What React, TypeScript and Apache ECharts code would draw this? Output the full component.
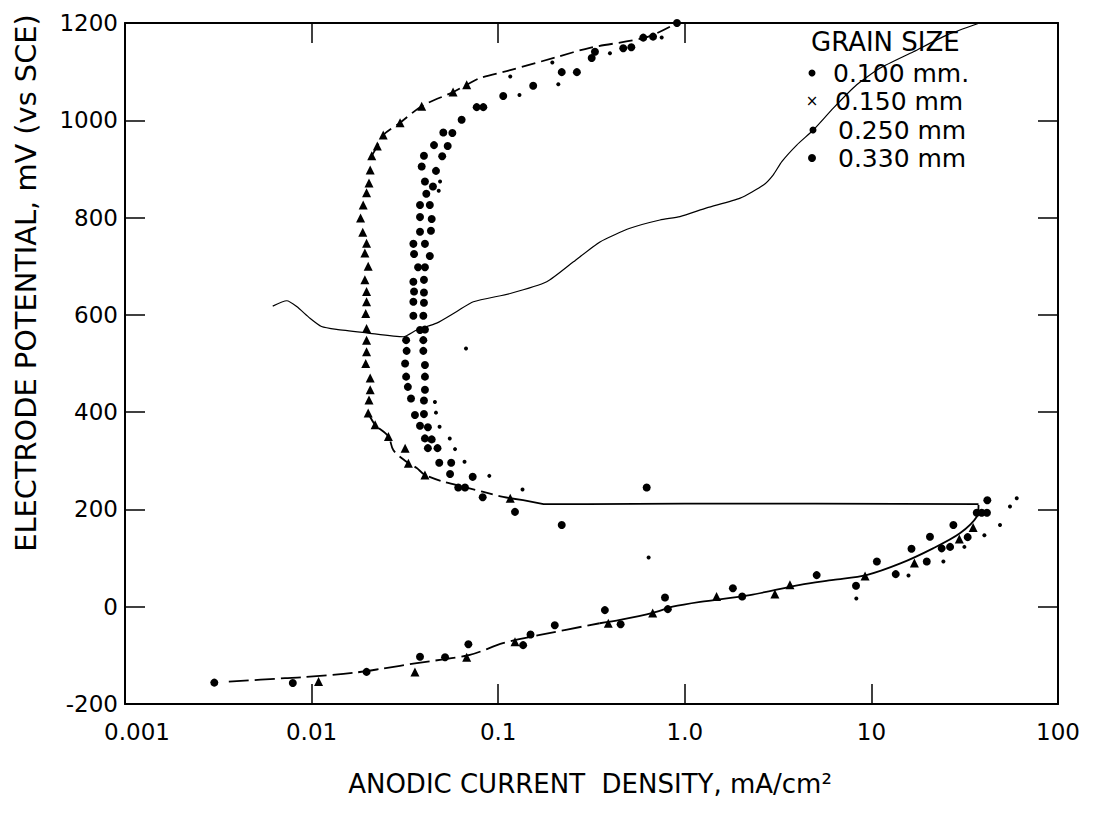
import React, { useEffect, useRef } from "react";
import * as echarts from "echarts";

const FONT = '"DejaVu Sans", "Liberation Sans", sans-serif';

// Tick labels
const X_TICK_LABELS = ["0.001", "0.01", "0.1", "1.0", "10", "100"];
const TOP_TICKS = [0.01, 0.1, 1];

// Legend
const LEGEND_TITLE = "GRAIN SIZE";
const LEGEND_LABELS = ["0.100 mm.", "0.150 mm", "0.250 mm", "0.330 mm"];

// 0.100 mm — triangles
const SIZE_0100: [number, number][] = [
  [0.0678, 1073], [0.0573, 1058], [0.0389, 1029], [0.0298, 995], [0.0242, 970],
  [0.0225, 947], [0.021, 927], [0.0206, 898], [0.0203, 871], [0.0197, 851],
  [0.0189, 826], [0.0183, 799], [0.0188, 770], [0.0197, 747], [0.0193, 727],
  [0.0201, 700], [0.0193, 672], [0.0197, 648], [0.0197, 627], [0.0195, 603],
  [0.0197, 572], [0.0197, 548], [0.0197, 524], [0.0195, 500], [0.0206, 470],
  [0.0206, 446], [0.0203, 425], [0.0201, 398], [0.0219, 374], [0.0258, 350],
  [0.0317, 326], [0.033, 295], [0.0405, 271], [0.116, 223],
  [0.0109, -154], [0.0358, -134], [0.0678, -104], [0.123, -72], [0.389, -34],
  [0.673, -13], [1.48, 21], [3.04, 26], [3.66, 45], [9.25, 63], [17.0, 90],
  [29.6, 139], [35.1, 163],
];

// 0.150 mm — small dots
const SIZE_0150: [number, number][] = [
  [0.0458, 421], [0.0464, 399], [0.0485, 370], [0.055, 346], [0.0587, 324],
  [0.066, 298], [0.0896, 269], [0.135, 241], [0.0672, 531], [0.64, 101],
  [0.048, 855], [0.0488, 874], [0.116, 1090], [0.13, 1052], [0.195, 1119],
  [0.21, 1074], [0.397, 1138], [0.752, 1170],
  [8.3, 17], [15.8, 64], [24.3, 93], [31.5, 123], [40.3, 147], [48.9, 168],
  [55.3, 206], [60.1, 223],
];

// 0.250 mm — circles (left column)
const SIZE_0250: [number, number][] = [
  [0.0381, 771], [0.0381, 801], [0.0381, 826], [0.0389, 905], [0.04, 927],
  [0.0453, 949], [0.0508, 975], [0.0637, 1001], [0.0767, 1027], [0.1064, 1050],
  [0.154, 1071], [0.219, 1099], [0.317, 1128], [0.468, 1148], [0.599, 1170],
  [0.908, 1200],
  [0.0351, 746], [0.0354, 725], [0.0372, 698], [0.0351, 668], [0.0354, 648],
  [0.0351, 627], [0.0351, 598], [0.0381, 569], [0.0321, 548], [0.0323, 526],
  [0.0317, 500], [0.0321, 473], [0.0328, 452], [0.0341, 428], [0.0358, 394],
  [0.0381, 372], [0.0405, 346], [0.042, 326], [0.0483, 296], [0.0552, 273],
  [0.0611, 245], [0.0826, 225], [0.123, 195], [0.219, 168], [0.625, 245],
  [0.00301, -156], [0.00793, -157], [0.0197, -134], [0.0381, -103],
  [0.136, -79], [0.201, -38], [0.453, -36], [0.811, -5], [2.03, 21],
  [8.27, 43], [13.5, 67], [19.8, 93], [23.8, 120], [27.5, 168], [36.7, 193],
  [41.8, 219],
];

// 0.330 mm — circles (right column)
const SIZE_0330: [number, number][] = [
  [0.0436, 773], [0.044, 797], [0.043, 826], [0.0412, 849], [0.0447, 864],
  [0.0405, 874], [0.0464, 896], [0.0501, 926], [0.0536, 947], [0.0568, 974],
  [0.0832, 1027], [0.264, 1099], [0.33, 1141], [0.517, 1150], [0.676, 1172],
  [0.0405, 746], [0.043, 721], [0.0405, 698], [0.04, 672], [0.04, 646],
  [0.04, 625], [0.0397, 598], [0.0405, 570], [0.0397, 548], [0.0397, 526],
  [0.0405, 497], [0.0405, 473], [0.0405, 446], [0.04, 424], [0.04, 396],
  [0.042, 369], [0.044, 344], [0.0473, 326], [0.056, 296], [0.073, 267],
  [0.0664, 245],
  [0.0519, -104], [0.0692, -77], [0.149, -57], [0.373, -7], [0.783, 19],
  [1.81, 38], [5.09, 65], [10.7, 93], [16.4, 119], [20.6, 144], [26.4, 123],
  [32.8, 143], [39.0, 193], [41.6, 193],
];

// Fitted curve through the data, in pieces
const FIT_ACTIVE_LOW: [number, number][] = [
  [0.0036, -154], [0.0072, -147], [0.009, -145], [0.0167, -136], [0.0242, -127],
  [0.0366, -116], [0.0705, -99], [0.106, -75], [0.1675, -58], [0.35, -34],
];
const FIT_ACTIVE_HIGH: [number, number][] = [
  [0.35, -34], [0.45, -27], [0.68, -12], [0.86, 0], [1.21, 10], [2.23, 24],
  [4.15, 45], [6.26, 55], [9.4, 65], [14.3, 89], [21.4, 120], [29.8, 151],
  [36.7, 185], [37.5, 209],
];
const FIT_PLATEAU: [number, number][] = [
  [37.5, 211], [5, 212], [1, 212], [0.3, 211], [0.175, 211], [0.136, 219],
  [0.116, 223],
];
const FIT_BEND: [number, number][] = [
  [0.116, 223], [0.1001, 228], [0.0677, 245], [0.0508, 257], [0.0405, 271],
  [0.0366, 285], [0.0317, 300], [0.0274, 322], [0.0258, 350], [0.0219, 374],
  [0.0201, 398],
];
const FIT_UPPER: [number, number][] = [
  [0.021, 927], [0.0225, 947], [0.0242, 970], [0.0298, 995], [0.0389, 1029],
  [0.0573, 1058], [0.0678, 1073], [0.08, 1087], [0.116, 1103], [0.206, 1130],
  [0.31, 1149], [0.627, 1171], [0.908, 1200],
];

// Thin continuous curve
const THIN_CURVE: [number, number][] = [
  [0.00619, 618], [0.00736, 629], [0.00832, 617], [0.0098, 593], [0.0113, 576],
  [0.0136, 570], [0.0197, 563], [0.031, 555], [0.0366, 569], [0.0468, 583],
  [0.06, 607], [0.0736, 627], [0.116, 644], [0.182, 668], [0.253, 709],
  [0.351, 750], [0.508, 778], [0.736, 795], [0.942, 802], [1.31, 820],
  [1.98, 840], [2.64, 867], [2.98, 888], [3.31, 915], [3.98, 949], [4.88, 980],
  [6.25, 1025], [8.34, 1073], [11.1, 1107], [16.8, 1141], [25.3, 1175],
  [38, 1200],
];

const BLACK = "#000";

function lineSeries(data: [number, number][], width: number, type: any, smooth: number | boolean) {
  return {
    type: "line",
    data,
    showSymbol: false,
    symbol: "none",
    smooth,
    silent: true,
    z: 2,
    lineStyle: { color: BLACK, width, type, opacity: 1 },
  };
}

function scatterSeries(name: string, data: [number, number][], symbol: string, size: number) {
  return {
    name,
    type: "scatter",
    data,
    symbol,
    symbolSize: size,
    silent: true,
    z: 3,
    itemStyle: { color: BLACK, opacity: 1 },
  };
}

export default function App() {
  const ref = useRef<HTMLDivElement>(null);

  useEffect(() => {
    if (!ref.current) return;
    const chart = echarts.init(ref.current, null, { renderer: "svg" });

    const axisLine = { show: true, onZero: false, lineStyle: { color: BLACK, width: 2 } };
    const tickStyle = { color: BLACK, width: 1.5 };
    const legendText = (text: string, x: number, y: number) => ({
      type: "text",
      x,
      y,
      style: { text, fontSize: 25, fontFamily: FONT, fill: BLACK, textAlign: "left", textVerticalAlign: "middle" },
    });

    const option: any = {
      animation: false,
      backgroundColor: "#fff",
      grid: { left: 125, top: 23, width: 933, height: 681, containLabel: false },
      xAxis: [
        {
          type: "log",
          logBase: 10,
          min: 0.001,
          max: 100,
          position: "bottom",
          axisLine,
          axisTick: { show: true, inside: true, length: 20, lineStyle: tickStyle },
          minorTick: { show: false },
          splitLine: { show: false },
          axisLabel: {
            color: BLACK,
            fontSize: 23,
            fontFamily: FONT,
            margin: 16,
            showMinLabel: true,
            showMaxLabel: true,
            formatter: (v: number) => {
              const i = Math.round(Math.log10(v)) + 3;
              const s = X_TICK_LABELS[i] ?? "";
              return i === 0 ? "{first|" + s + "}" : s;
            },
            rich: {
              first: { fontSize: 23, fontFamily: FONT, color: BLACK, padding: [0, 0, 0, 24] },
            },
          },
        },
        {
          type: "log",
          logBase: 10,
          min: 0.001,
          max: 100,
          position: "top",
          axisLine,
          axisTick: { show: true, inside: true, length: 20, lineStyle: tickStyle, customValues: TOP_TICKS },
          axisLabel: { show: false },
          splitLine: { show: false },
        },
      ],
      yAxis: [
        {
          type: "value",
          min: -200,
          max: 1200,
          interval: 200,
          position: "left",
          axisLine,
          axisTick: { show: true, inside: true, length: 20, lineStyle: tickStyle },
          splitLine: { show: false },
          axisLabel: {
            color: BLACK,
            fontSize: 23,
            fontFamily: FONT,
            margin: 7,
            formatter: (v: number) => String(v),
          },
        },
        {
          type: "value",
          min: -200,
          max: 1200,
          interval: 200,
          position: "right",
          axisLine,
          axisTick: { show: true, inside: true, length: 20, lineStyle: tickStyle },
          splitLine: { show: false },
          axisLabel: { show: false },
        },
      ],
      series: [
        lineSeries(FIT_ACTIVE_LOW, 1.8, [20, 6], 0.3),
        lineSeries(FIT_ACTIVE_HIGH, 1.8, "solid", 0.3),
        lineSeries(FIT_PLATEAU, 1.8, "solid", false),
        lineSeries(FIT_BEND, 1.8, [12, 6], 0.3),
        lineSeries(FIT_UPPER, 1.8, [14, 6], 0.3),
        lineSeries(THIN_CURVE, 1.2, "solid", 0.2),
        scatterSeries(LEGEND_LABELS[0], SIZE_0100, "triangle", 9),
        scatterSeries(LEGEND_LABELS[1], SIZE_0150, "circle", 4),
        scatterSeries(LEGEND_LABELS[2], SIZE_0250, "circle", 8),
        scatterSeries(LEGEND_LABELS[3], SIZE_0330, "circle", 8),
      ],
      graphic: [
        {
          type: "text",
          x: 27,
          y: 283,
          rotation: Math.PI / 2,
          scaleX: 1.03,
          style: {
            text: "ELECTRODE POTENTIAL, mV (vs SCE)",
            fontSize: 28,
            fontFamily: FONT,
            fill: BLACK,
            textAlign: "center",
            textVerticalAlign: "middle",
          },
        },
        {
          type: "text",
          x: 590,
          y: 784,
          style: {
            text: "ANODIC CURRENT  DENSITY, mA/cm²",
            fontSize: 26,
            fontFamily: FONT,
            fill: BLACK,
            textAlign: "center",
            textVerticalAlign: "middle",
          },
        },
        {
          type: "text",
          x: 811,
          y: 42,
          style: { text: LEGEND_TITLE, fontSize: 26, fontFamily: FONT, fill: BLACK, textAlign: "left", textVerticalAlign: "middle" },
        },
        { type: "circle", shape: { cx: 812, cy: 73, r: 3.5 }, style: { fill: BLACK } },
        legendText(LEGEND_LABELS[0], 833, 73),
        {
          type: "text",
          x: 812,
          y: 101,
          style: { text: "×", fontSize: 15, fontFamily: FONT, fill: BLACK, textAlign: "center", textVerticalAlign: "middle" },
        },
        legendText(LEGEND_LABELS[1], 835, 101),
        { type: "circle", shape: { cx: 813, cy: 130, r: 3.5 }, style: { fill: BLACK } },
        legendText(LEGEND_LABELS[2], 838, 130),
        { type: "circle", shape: { cx: 812, cy: 158, r: 4 }, style: { fill: BLACK } },
        legendText(LEGEND_LABELS[3], 838, 158),
      ],
    };

    chart.setOption(option);
    return () => chart.dispose();
  }, []);

  return (
    <div
      ref={ref}
      style={{ position: "fixed", left: 0, top: 0, width: 1094, height: 815, background: "#fff" }}
    />
  );
}
